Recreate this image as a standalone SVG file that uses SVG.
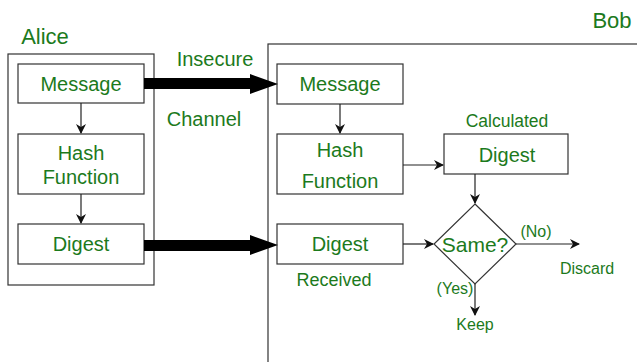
<svg xmlns="http://www.w3.org/2000/svg" width="637" height="362" viewBox="0 0 637 362">
<style>
.t{font-family:"Liberation Sans",Arial,sans-serif;fill:#1c7a1c;text-anchor:middle}
.box{fill:#fff;stroke:#333;stroke-width:1.2}
.ln{stroke:#222;stroke-width:1.2;fill:none}
</style>
<defs>
<marker id="ah" markerWidth="10" markerHeight="10" refX="9" refY="5" orient="auto" markerUnits="userSpaceOnUse">
<path d="M0,0 L10,5 L0,10 L3,5 Z" fill="#111"/>
</marker>
</defs>
<rect width="637" height="362" fill="#fff"/>
<g id="alice">
<rect class="box" x="8" y="54" width="146" height="231"/>
<text class="t" x="45" y="44" font-size="22">Alice</text>
</g>
<g id="bob">
<rect class="box" x="268" y="44" width="380" height="330"/>
<text class="t" x="612" y="28" font-size="22">Bob</text>
</g>
<g id="a-message"><rect class="box" x="18" y="64" width="126" height="39"/><text class="t" x="81" y="91" font-size="20">Message</text></g>
<g id="a-hash"><rect class="box" x="18" y="134" width="126" height="60"/><text class="t" x="81" y="160" font-size="20">Hash</text><text class="t" x="81" y="184" font-size="20">Function</text></g>
<g id="a-digest"><rect class="box" x="18" y="224" width="126" height="40"/><text class="t" x="81" y="251" font-size="20">Digest</text></g>
<g id="b-message"><rect class="box" x="277" y="64" width="126" height="40"/><text class="t" x="340" y="91" font-size="20">Message</text></g>
<g id="b-hash"><rect class="box" x="277" y="134" width="126" height="60"/><text class="t" x="340" y="157" font-size="20">Hash</text><text class="t" x="340" y="188" font-size="20">Function</text></g>
<g id="b-digest"><rect class="box" x="277" y="224" width="126" height="40"/><text class="t" x="340" y="251" font-size="20">Digest</text><text class="t" x="334" y="286" font-size="18">Received</text></g>
<g id="calc-digest"><rect class="box" x="444" y="134" width="124" height="40"/><text class="t" x="507" y="162" font-size="20">Digest</text><text class="t" x="507" y="127" font-size="17.5">Calculated</text></g>
<g id="same"><path class="box" d="M475,204 L516,244 L475,284 L434,244 Z"/><text class="t" x="475" y="252" font-size="21">Same?</text></g>
<g id="labels">
<text class="t" x="215" y="66" font-size="20">Insecure</text>
<text class="t" x="204" y="126" font-size="20">Channel</text>
<text class="t" x="536" y="237" font-size="16">(No)</text>
<text class="t" x="587" y="274" font-size="16">Discard</text>
<text class="t" x="455" y="294" font-size="16">(Yes)</text>
<text class="t" x="475" y="330" font-size="16">Keep</text>
</g>
<g id="connectors">
<path d="M144,78 L250,78 L250,74 L278,84 L250,94 L250,89 L144,89 Z" fill="#000"/>
<path d="M144,240 L250,240 L250,235 L278,245 L250,255 L250,251 L144,251 Z" fill="#000"/>
<line class="ln" x1="81" y1="103" x2="81" y2="133" marker-end="url(#ah)"/>
<line class="ln" x1="81" y1="194" x2="81" y2="223" marker-end="url(#ah)"/>
<line class="ln" x1="340" y1="104" x2="340" y2="133" marker-end="url(#ah)"/>
<line class="ln" x1="403" y1="165" x2="443" y2="165" marker-end="url(#ah)"/>
<line class="ln" x1="475" y1="174" x2="475" y2="203" marker-end="url(#ah)"/>
<line class="ln" x1="403" y1="244" x2="433" y2="244" marker-end="url(#ah)"/>
<line class="ln" x1="516" y1="244" x2="579" y2="244" marker-end="url(#ah)"/>
<line class="ln" x1="475" y1="284" x2="475" y2="315" marker-end="url(#ah)"/>
</g>
</svg>
